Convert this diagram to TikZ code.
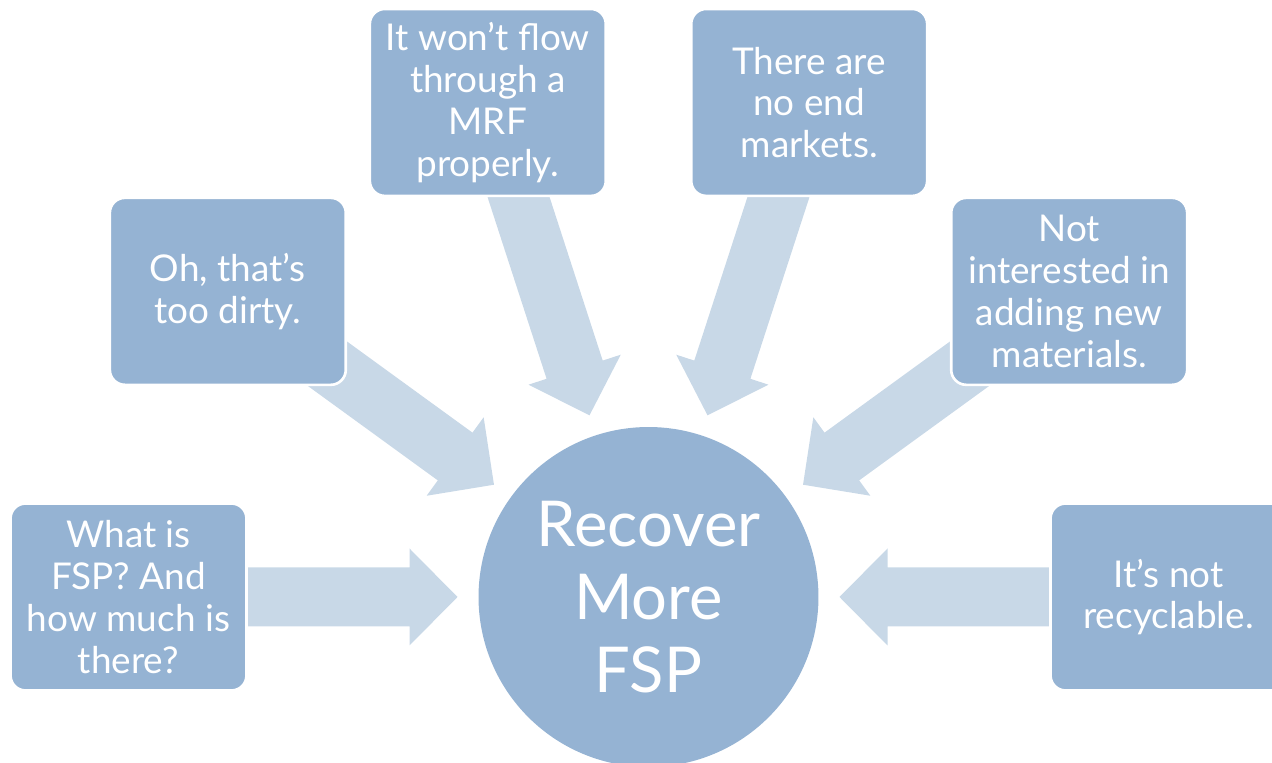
\documentclass[tikz,border=0pt]{standalone}
\usepackage{fontspec}
\setmainfont{Lato}
\usetikzlibrary{positioning,calc}
\definecolor{boxblue}{HTML}{95B3D3}
\definecolor{arrowblue}{HTML}{C8D8E7}
\tikzset{
  reason/.style={draw=white, line width=1.5pt, fill=boxblue, rounded corners=0.3cm,
    minimum width=4.72cm, minimum height=3.74cm, align=center, text=white,
    font=\fontsize{21}{23.8}\selectfont},
  hubnode/.style={circle, fill=boxblue, minimum size=6.8cm, inner sep=0pt,
    align=center, text=white, font=\fontsize{36}{41.4}\selectfont}
}

\begin{document}
\begin{tikzpicture}[x=0.02cm,y=0.02cm]
\useasboundingbox (0,0) rectangle (1272,763);
\clip (0,0) rectangle (1272,763);
% centre
\node[hubnode] (hub) at (648.5,166) {Recover\\More\\FSP};
% block arrows, pointing at the centre
\foreach \ang in {0,36,...,180}{
  \begin{scope}[shift={(hub.center)}, rotate=\ang]
    \fill[arrowblue] (191,0) -- (239,48.5) -- (239,29.5) -- (450,29.5)
      -- (450,-29.5) -- (239,-29.5) -- (239,-48.5) -- cycle;
  \end{scope}
}
% the reasons
\node[reason] (what)  at ($(hub)+(180:520)$) {What is\\FSP? And\\how much is\\there?};
\node[reason] (dirty) at ($(hub)+(144:520)$) {Oh, that’s\\too dirty.};
\node[reason] (flow)  at ($(hub)+(108:520)$) {It won’t flow\\through a\\MRF\\properly.};
\node[reason] (ends)  at ($(hub)+(72:520)$)  {There are\\no end\\markets.};
\node[reason] (new)   at ($(hub)+(36:520)$)  {Not\\interested in\\adding new\\materials.};
\node[reason] (recyc) at ($(hub)+(0:520)$)   {It’s not\\recyclable.};
\end{tikzpicture}
\end{document}
